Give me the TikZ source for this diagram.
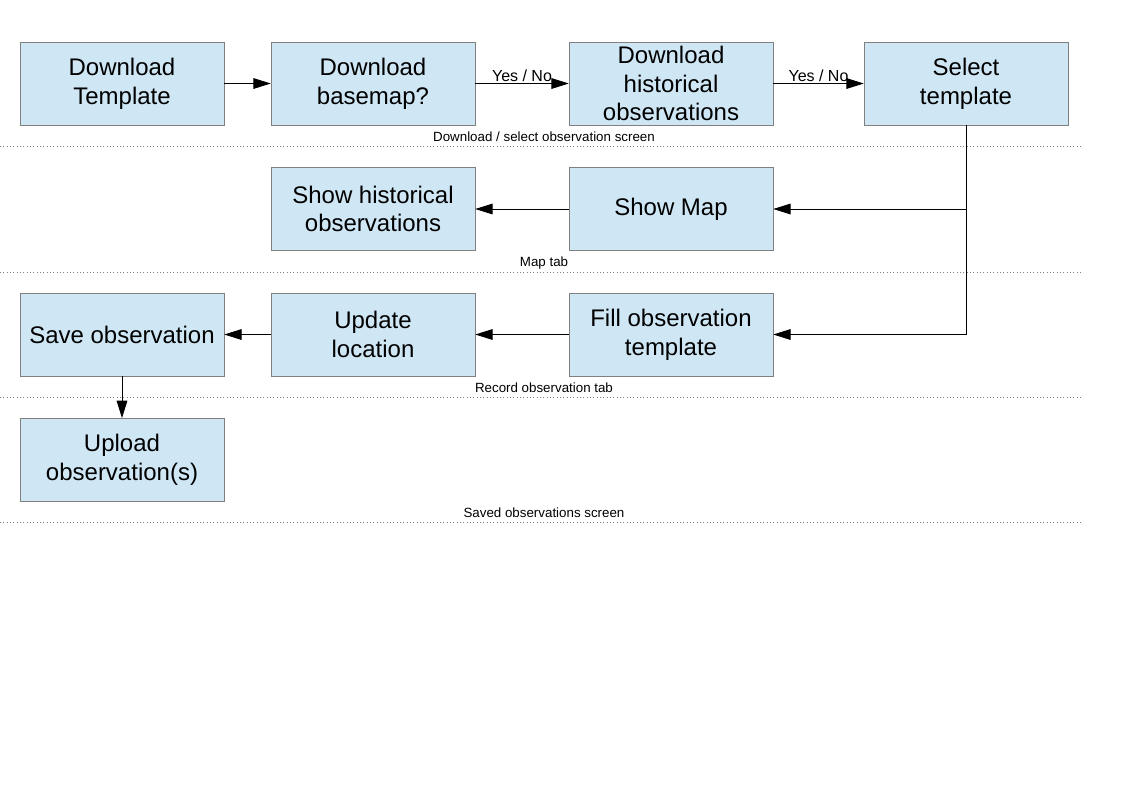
\documentclass[tikz,border=0pt]{standalone}
\usepackage{fontspec}
\setmainfont{Liberation Sans}
\usetikzlibrary{arrows.meta}
\definecolor{boxfill}{HTML}{CFE7F5}
\definecolor{boxline}{HTML}{808080}
\tikzset{
    stepbox/.style={rectangle, draw=boxline, fill=boxfill, minimum width=153pt,
        minimum height=62.5pt, align=center, inner sep=0pt,
        font=\fontsize{18}{21.5}\selectfont},
    flow/.style={-{Triangle[length=13pt, width=8pt]}, line width=0.6pt},
    lane/.style={dotted, draw=boxline, line width=0.5pt},
    lanelabel/.style={font=\fontsize{10}{12}\selectfont, inner sep=0pt},
    choice/.style={font=\fontsize{12}{14}\selectfont, inner sep=1pt}
}
\begin{document}
\begin{tikzpicture}[x=0.75pt, y=-0.75pt]
        \useasboundingbox (0,0) rectangle (1123,794);

        % boxes
        \node[stepbox] at (122, 83.5)  (tpl)    {Download\\Template};
        \node[stepbox] at (373, 83.5)  (base)   {Download\\basemap?};
        \node[stepbox] at (671, 83.5)  (hist)   {Download\\historical\\observations};
        \node[stepbox] at (966, 83.5)  (sel)    {Select\\template};
        \node[stepbox] at (373, 209)   (show)   {Show historical\\observations};
        \node[stepbox] at (671, 209)   (map)    {Show Map};
        \node[stepbox] at (122, 334.5) (save)   {Save observation};
        \node[stepbox] at (373, 334.5) (upd)    {Update\\location};
        \node[stepbox] at (671, 334.5) (fill)   {Fill observation\\template};
        \node[stepbox] at (122, 460)   (upl)    {Upload\\observation(s)};

        % lanes
        \draw[lane] (0, 146) -- (1083, 146);
        \draw[lane] (0, 272) -- (1083, 272);
        \draw[lane] (0, 397) -- (1083, 397);
        \draw[lane] (0, 522) -- (1083, 522);

        \node[lanelabel] at (544, 137) (l1) {Download / select observation screen};
        \node[lanelabel] at (544, 263) (l2) {Map tab};
        \node[lanelabel] at (544, 388) (l3) {Record observation tab};
        \node[lanelabel] at (544, 513) (l4) {Saved observations screen};

        \draw[flow]  (tpl) -- (base);
        \draw[flow]  (base) -- node[choice, above] {Yes / No} (hist);
        \draw[flow]  (hist) -- node[choice, above] {Yes / No} (sel);

        \draw[flow]  (sel.south) |- (map.east);
        \draw[flow]  (sel.south) |- (fill.east);
        \draw[flow]  (map) -- (show);
        \draw[flow]  (fill) -- (upd);
        \draw[flow]  (upd) -- (save);
        \draw[flow]  (save) -- (upl);

    \end{tikzpicture}
\end{document}
